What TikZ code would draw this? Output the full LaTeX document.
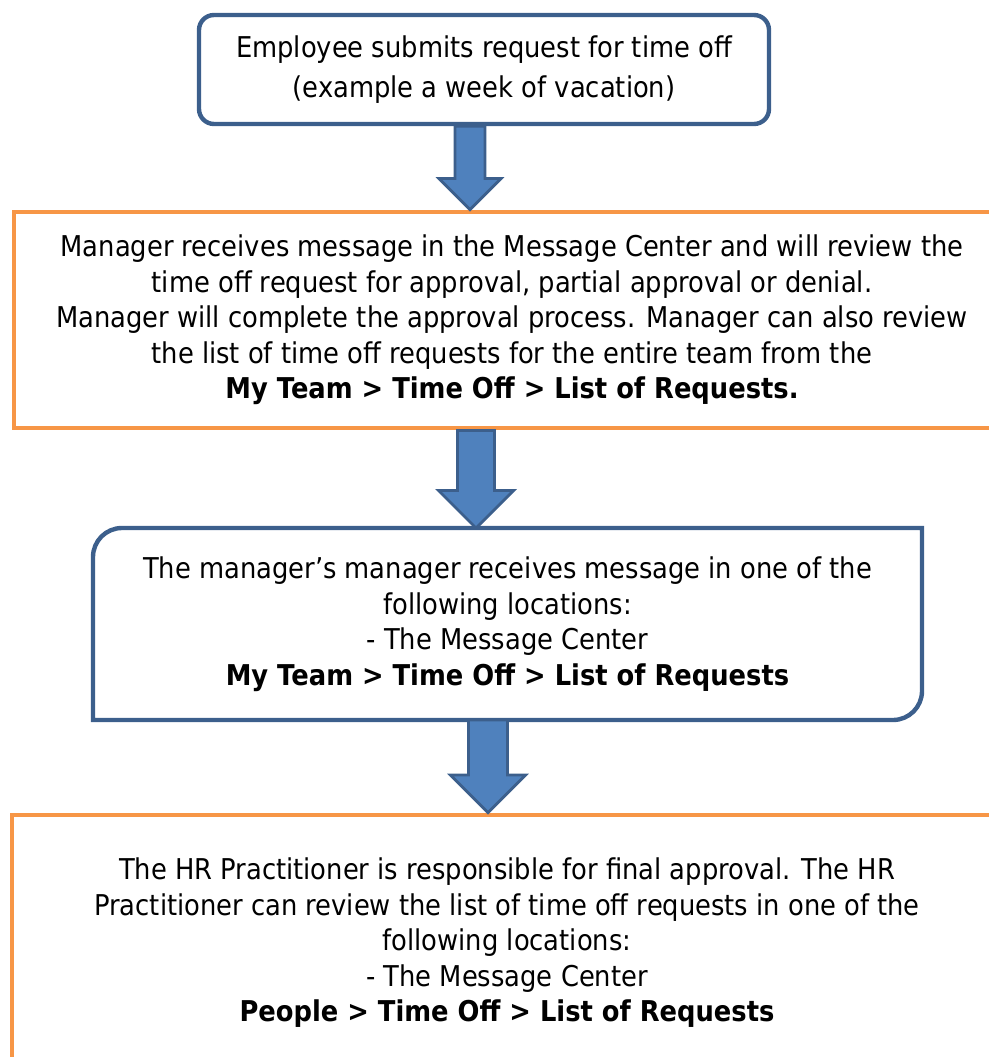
\documentclass[tikz,border=0pt]{standalone}
\usepackage{fontspec}
\setmainfont{DejaVu Sans}[FakeStretch=0.9]
\usetikzlibrary{positioning, calc}
\definecolor{boxblue}{HTML}{3C5F8C}
\definecolor{arrowfill}{HTML}{4F81BD}
\definecolor{boxorange}{HTML}{F79646}
\tikzset{
  stepblue/.style={draw=boxblue, line width=2.5pt, fill=white, align=center},
  steporange/.style={draw=boxorange, line width=2.8pt, fill=white, align=center},
  flow/.style={draw=boxblue, line width=1.6pt, fill=arrowfill, line join=miter}
}
% block arrow from one box down to the next: from, to, axis, half shaft, half head
\newcommand{\flowarrow}[5]{%
  \draw[flow] ($(#1.south -| #3)+(-#4,0)$) -- ($(#2.north -| #3)+(-#4,#5)$)
    -- ($(#2.north -| #3)+(-#5,#5)$) -- (#2.north -| #3) -- ($(#2.north -| #3)+(#5,#5)$)
    -- ($(#2.north -| #3)+(#4,#5)$) -- ($(#1.south -| #3)+(#4,0)$) -- cycle;}

\begin{document}
\begin{tikzpicture}[font=\fontsize{16.3}{20.2}\selectfont]
        \useasboundingbox (0,0) rectangle (19.76,-21.14);
        %caselle
        \node[stepblue, rounded corners=0.3cm, minimum width=11.4cm, minimum height=2.18cm,
              font=\fontsize{16.3}{22.8}\selectfont] (submit) at (9.68,-1.39)
              {Employee submits request for time off\\(example a week of vacation)};
        \node[steporange, minimum width=19.92cm, minimum height=4.32cm] (manager) at (10.24,-6.4)
              {Manager receives message in the Message Center and will review the\\
               time off request for approval, partial approval or denial.\\
               Manager will complete the approval process. Manager can also review\\
               the list of time off requests for the entire team from the\\
               \textbf{My Team > Time Off > List of Requests.}};
        \node[align=center, minimum width=16.58cm, minimum height=3.84cm, outer sep=0pt] (upper) at (10.15,-12.48)
              {The manager's manager receives message in one of the\\
               following locations:\\
               - The Message Center\\
               \textbf{My Team > Time Off > List of Requests}};
        \node[steporange, minimum width=19.8cm, minimum height=5.12cm] (hr) at (10.14,-18.86)
              {The HR Practitioner is responsible for final approval. The HR\\
               Practitioner can review the list of time off requests in one of the\\
               following locations:\\
               - The Message Center\\
               \textbf{People > Time Off > List of Requests}};
        %bordo con due angoli arrotondati
        \draw[stepblue, fill=none] (upper.south west) -- ([yshift=-0.58cm]upper.north west)
              arc[start angle=180, end angle=90, radius=0.58cm] -- (upper.north east)
              -- ([yshift=0.58cm]upper.south east)
              arc[start angle=0, end angle=-90, radius=0.58cm] -- cycle;
        %frecce
        \coordinate (axisA) at (9.4,0);
        \coordinate (axisB) at (9.52,0);
        \coordinate (axisC) at (9.76,0);
        \flowarrow{submit}{manager}{axisA}{0.3}{0.62}
        \flowarrow{manager}{upper}{axisB}{0.37}{0.75}
        \flowarrow{upper}{hr}{axisC}{0.39}{0.75}
\end{tikzpicture}
\end{document}
